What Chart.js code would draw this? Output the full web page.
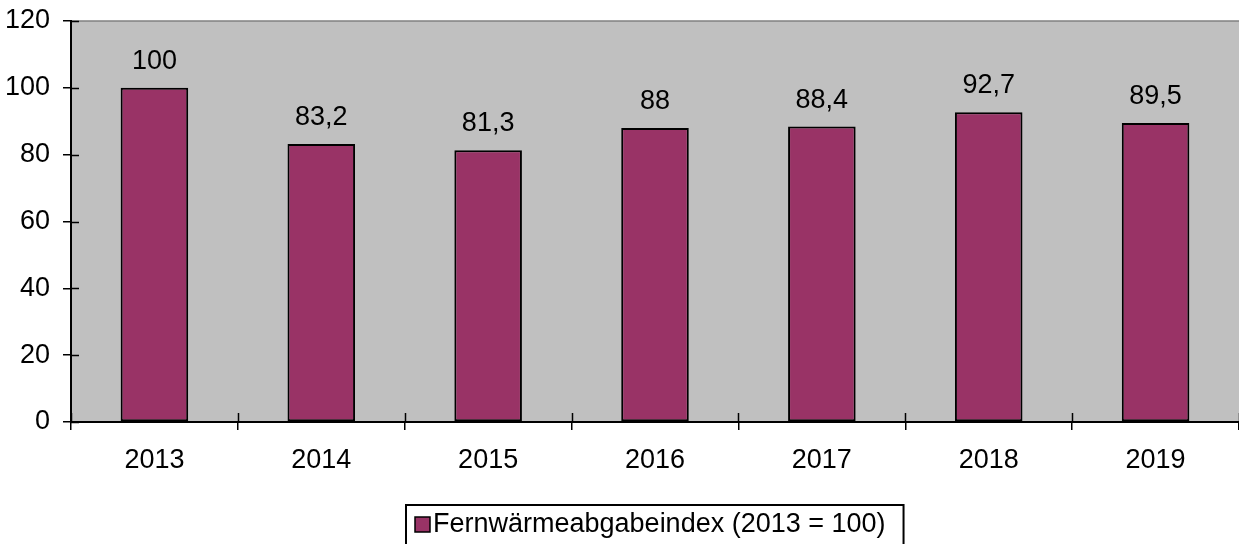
<!DOCTYPE html>
<html lang="de">
<head>
    <meta charset="UTF-8">
    <title>Fernwärmeabgabeindex</title>
    <script src="https://cdn.jsdelivr.net/npm/chart.js@4.4.0/dist/chart.umd.min.js"></script>
    <style>
        body { margin: 0; background: #fff; }
        #wrap { width: 1239px; height: 544px; }
    </style>
</head>
<body>
    <div id="wrap">
        <canvas id="myChart" width="1239" height="544"></canvas>
    </div>

    <script>
        const years = ['2013', '2014', '2015', '2016', '2017', '2018', '2019'];
        const indexValues = [100, 83.2, 81.3, 88, 88.4, 92.7, 89.5];
        const yTicks = [0, 20, 40, 60, 80, 100, 120];
        const seriesName = 'Fernwärmeabgabeindex (2013 = 100)';

        const FONT = '"Liberation Sans", Arial, sans-serif';
        const FSIZE = 27;

        // grauer Hintergrund + obere Linie
        const plotBackground = {
            id: 'plotBackground',
            beforeDraw(chart) {
                const ctx = chart.ctx;
                const a = chart.chartArea;
                ctx.save();
                ctx.fillStyle = '#C0C0C0';
                ctx.fillRect(a.left, a.top, a.right - a.left, a.bottom - a.top);
                ctx.strokeStyle = '#808080';
                ctx.lineWidth = 1.5;
                ctx.beginPath();
                ctx.moveTo(a.left, a.top);
                ctx.lineTo(a.right, a.top);
                ctx.stroke();
                ctx.restore();
            }
        };

        // Teilstriche nach innen verlängern
        const innerTicks = {
            id: 'innerTicks',
            afterDraw(chart) {
                const ctx = chart.ctx;
                const a = chart.chartArea;
                const xs = chart.scales.x;
                const ys = chart.scales.y;
                ctx.save();
                ctx.strokeStyle = '#000';
                ctx.lineWidth = 1.5;
                ctx.beginPath();
                for (let i = 0; i <= years.length; i++) {
                    const px = Math.round(xs.getPixelForValue(i - 0.5)) + 0.5;
                    ctx.moveTo(px, a.bottom);
                    ctx.lineTo(px, a.bottom - 9);
                }
                yTicks.forEach(function (v) {
                    const py = Math.round(ys.getPixelForValue(v)) + 0.5;
                    ctx.moveTo(a.left, py);
                    ctx.lineTo(a.left + 8, py);
                });
                ctx.stroke();
                ctx.restore();
            }
        };

        // Werte über den Balken
        const valueLabels = {
            id: 'valueLabels',
            afterDatasetsDraw(chart) {
                const ctx = chart.ctx;
                const meta = chart.getDatasetMeta(0);
                ctx.save();
                ctx.font = FSIZE + 'px ' + FONT;
                ctx.fillStyle = '#000';
                ctx.textAlign = 'center';
                ctx.textBaseline = 'alphabetic';
                meta.data.forEach(function (bar, i) {
                    const txt = String(indexValues[i]).replace('.', ',');
                    ctx.fillText(txt, bar.x, bar.y - 19);
                });
                ctx.restore();
            }
        };

        // Legende mit Rahmen
        const boxLegend = {
            id: 'boxLegend',
            afterDraw(chart) {
                const ctx = chart.ctx;
                const a = chart.chartArea;
                const ds = chart.data.datasets[0];
                ctx.save();
                ctx.font = FSIZE + 'px ' + FONT;
                const w = ctx.measureText(ds.label).width;
                const total = 9 + 15 + 3 + w + 18;
                const left = Math.round((a.left + a.right) / 2 - total / 2);
                const top = 505;
                ctx.strokeStyle = '#000';
                ctx.lineWidth = 2;
                ctx.strokeRect(left, top, total, 44);
                ctx.fillStyle = ds.backgroundColor;
                ctx.fillRect(left + 9, 517, 15, 15);
                ctx.lineWidth = 1.5;
                ctx.strokeRect(left + 9, 517, 15, 15);
                ctx.fillStyle = '#000';
                ctx.textAlign = 'left';
                ctx.textBaseline = 'middle';
                ctx.fillText(ds.label, left + 27, 525);
                ctx.restore();
            }
        };

        const ctx = document.getElementById('myChart');
        const myChart = new Chart(ctx, {
            type: 'bar',
            data: {
                labels: years,
                datasets: [{
                    label: seriesName,
                    data: indexValues,
                    backgroundColor: '#993366',
                    borderColor: '#000',
                    borderWidth: 2,
                    borderSkipped: false,
                    barPercentage: 0.405,
                    categoryPercentage: 1
                }]
            },
            options: {
                responsive: false,
                animation: false,
                layout: {
                    padding: { top: 21, left: 0, right: 0, bottom: 62 }
                },
                plugins: {
                    legend: { display: false },
                    tooltip: { enabled: false }
                },
                scales: {
                    x: {
                        offset: true,
                        grid: {
                            offset: true,
                            drawOnChartArea: false,
                            tickLength: 8,
                            color: '#000',
                            lineWidth: 1.5
                        },
                        border: { display: true, color: '#000', width: 2 },
                        ticks: {
                            color: '#000',
                            padding: 14,
                            font: { size: FSIZE, family: FONT }
                        },
                        afterFit(scale) {
                            scale.height = 60;
                            scale.paddingLeft = 0;
                            scale.paddingRight = 0;
                        }
                    },
                    y: {
                        min: 0,
                        max: 120,
                        grid: {
                            drawOnChartArea: false,
                            tickLength: 8,
                            color: '#000',
                            lineWidth: 1.5
                        },
                        border: { display: true, color: '#000', width: 2 },
                        ticks: {
                            stepSize: 20,
                            color: '#000',
                            padding: 13,
                            font: { size: FSIZE, family: FONT }
                        },
                        afterFit(scale) {
                            scale.width = 71;
                            scale.paddingTop = 0;
                            scale.paddingBottom = 0;
                        }
                    }
                }
            },
            plugins: [plotBackground, innerTicks, valueLabels, boxLegend]
        });
    </script>
</body>
</html>
